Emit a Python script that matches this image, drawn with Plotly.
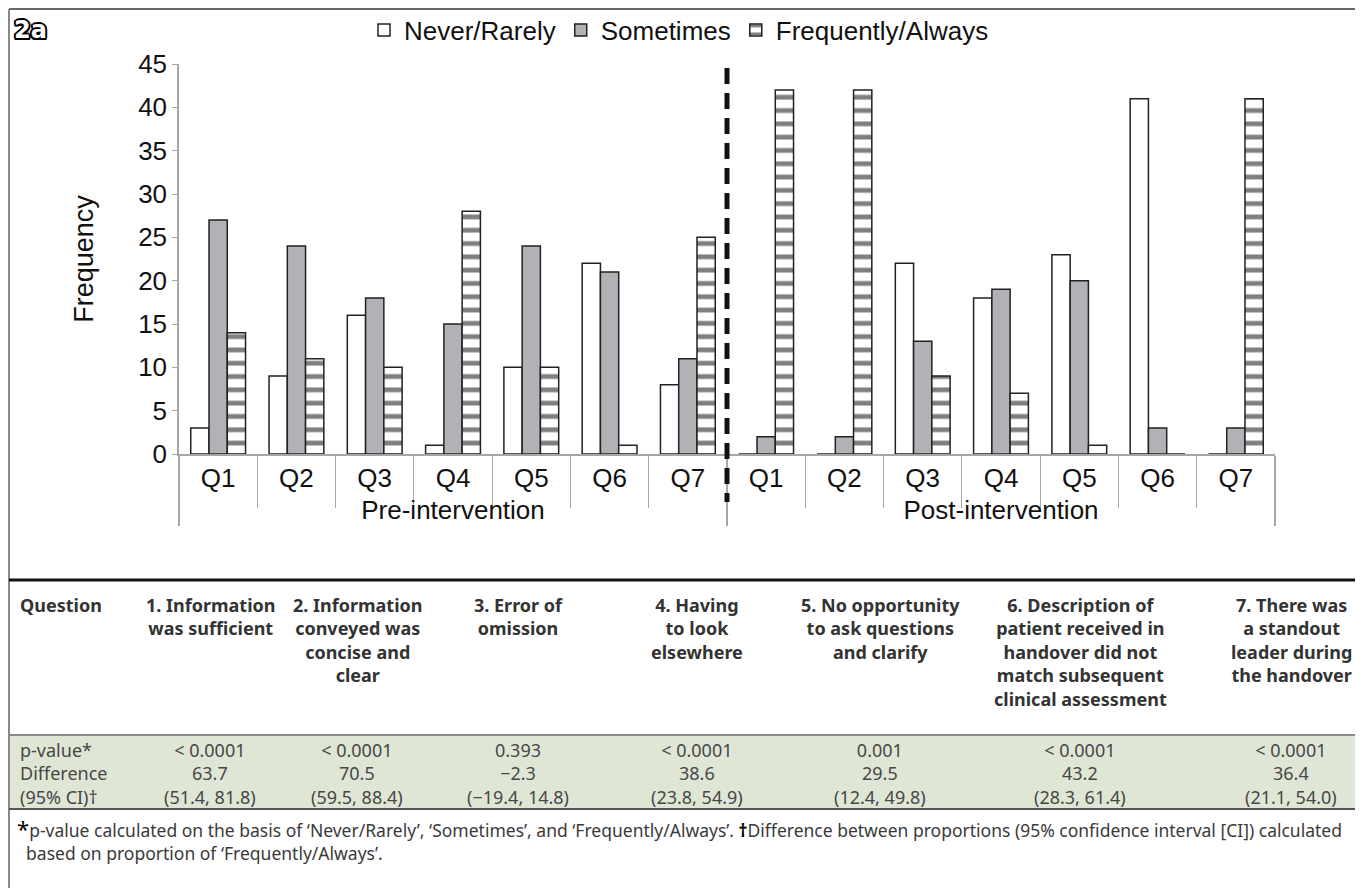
import plotly.graph_objects as go

# ---------------- data ----------------
groups = ["Pre-intervention"] * 7 + ["Post-intervention"] * 7
questions = ["Q1", "Q2", "Q3", "Q4", "Q5", "Q6", "Q7"] * 2
never_rarely = [3, 9, 16, 1, 10, 22, 8, 0, 0, 22, 18, 23, 41, 0]
sometimes = [27, 24, 18, 15, 24, 21, 11, 2, 2, 13, 19, 20, 3, 3]
frequently_always = [14, 11, 10, 28, 10, 1, 25, 42, 42, 9, 7, 1, 0, 41]
series_names = ["Never/Rarely", "Sometimes", "Frequently/Always"]

table_headers = [
    ["1. Information", "was sufficient"],
    ["2. Information", "conveyed was", "concise and", "clear"],
    ["3. Error of", "omission"],
    ["4. Having", "to look", "elsewhere"],
    ["5. No opportunity", "to ask questions", "and clarify"],
    ["6. Description of", "patient received in", "handover did not", "match subsequent",
     "clinical assessment"],
    ["7. There was", "a standout", "leader during", "the handover"],
]
p_values = ["< 0.0001", "< 0.0001", "0.393", "< 0.0001", "0.001", "< 0.0001", "< 0.0001"]
differences = ["63.7", "70.5", "\u22122.3", "38.6", "29.5", "43.2", "36.4"]
ci_95 = ["(51.4, 81.8)", "(59.5, 88.4)", "(\u221219.4, 14.8)", "(23.8, 54.9)",
         "(12.4, 49.8)", "(28.3, 61.4)", "(21.1, 54.0)"]
row_labels = ["p-value*", "Difference", "(95% CI)\u2020"]
footnote_1 = ("<span style='font-size:22px;color:#000'>*</span>p-value calculated on the basis of "
              "\u2018Never/Rarely\u2019, \u2018Sometimes\u2019, and \u2018Frequently/Always\u2019. "
              "<span style='color:#000'><b>\u2020</b></span>Difference between proportions (95% confidence "
              "interval [CI]) calculated")
footnote_2 = "\u00a0\u00a0based on proportion of \u2018Frequently/Always\u2019."

# ---------------- layout geometry ----------------
# reference pixel coordinates; the page body adds an 8px offset
OFF = 8
W_IMG, H_IMG = 1363 - OFF, 888 - OFF
L, R, T, B = 179, 1275, 64, 454
PW, PH = R - L, B - T


def px(x):
    return (x - L) / PW


def py(y):
    return (B - y) / PH


CHART_FONT = "Liberation Sans, Arial, sans-serif"
TABLE_FONT = "Noto Sans, Roboto, sans-serif"
HEAD_COLOR = "#333333"
VAL_COLOR = "#474747"

x = [groups, questions]
fig = go.Figure()
fig.add_trace(go.Bar(
    x=x, y=never_rarely, name=series_names[0],
    marker=dict(color="white", line=dict(color="#222", width=1.5)),
))
fig.add_trace(go.Bar(
    x=x, y=sometimes, name=series_names[1],
    marker=dict(color="#b1b2b5", line=dict(color="#222", width=1.5)),
))
fig.add_trace(go.Bar(
    x=x, y=frequently_always, name=series_names[2],
    marker=dict(color="white", line=dict(color="#222", width=1.5),
                pattern=dict(shape="-", fgcolor="#000", bgcolor="white",
                             size=13.3, solidity=0.36)),
))

fig.update_layout(
    width=W_IMG, height=H_IMG,
    margin=dict(l=L - OFF, r=1363 - R, t=T - OFF, b=888 - B, pad=0, autoexpand=False),
    plot_bgcolor="white", paper_bgcolor="white",
    barmode="group", bargap=0.3, bargroupgap=0,
    font=dict(family=CHART_FONT, size=26, color="#111"),
    showlegend=True,
    legend=dict(orientation="h", xref="container", yref="container",
                x=(364 - OFF) / W_IMG, xanchor="left", y=1 - (30 - OFF) / H_IMG,
                yanchor="middle",
                font=dict(size=26, family=CHART_FONT), bgcolor="rgba(0,0,0,0)",
                itemwidth=30, tracegroupgap=0),
    xaxis=dict(
        type="multicategory", showline=True, linecolor="#a6a6a6", linewidth=1.5,
        ticks="outside", tickson="boundaries", ticklen=52, tickcolor="#a6a6a6",
        showdividers=True, dividercolor="#a6a6a6", dividerwidth=1.5,
        tickfont=dict(size=26, family=CHART_FONT, color="#111"),
        showgrid=False, zeroline=False, automargin=False,
    ),
    yaxis=dict(
        range=[0, 45], dtick=5, showline=True, linecolor="#a6a6a6", linewidth=1.5,
        ticks="outside", ticklen=5, tickcolor="#a6a6a6",
        tickfont=dict(size=26, family=CHART_FONT, color="#111"),
        showgrid=False, zeroline=False, automargin=False,
        title=dict(text="Frequency", font=dict(size=27, family=CHART_FONT, color="#111"),
                   standoff=37),
    ),
)

shapes = []
# outer frame
shapes.append(dict(type="line", xref="paper", yref="paper", x0=px(9), x1=px(1356),
                   y0=py(9), y1=py(9), line=dict(color="#333", width=1.5)))
shapes.append(dict(type="line", xref="paper", yref="paper", x0=px(9), x1=px(9),
                   y0=py(9), y1=py(890), line=dict(color="#888", width=2)))
shapes.append(dict(type="line", xref="paper", yref="paper", x0=px(1356), x1=px(1356),
                   y0=py(9), y1=py(890), line=dict(color="#888", width=2)))
# dashed separator between pre and post
shapes.append(dict(type="line", xref="paper", yref="paper", x0=0.5, x1=0.5,
                   y0=py(68), y1=py(502), line=dict(color="#111", width=5, dash="16px,9px")))
# table background and rules
shapes.append(dict(type="rect", xref="paper", yref="paper", x0=px(10), x1=px(1355),
                   y0=py(735), y1=py(809), fillcolor="#dfe6d6", line=dict(width=0), layer="below"))
shapes.append(dict(type="line", xref="paper", yref="paper", x0=px(9), x1=px(1356),
                   y0=py(580), y1=py(580), line=dict(color="#111", width=3)))
shapes.append(dict(type="line", xref="paper", yref="paper", x0=px(9), x1=px(1356),
                   y0=py(735), y1=py(735), line=dict(color="#8a8a8a", width=2)))
shapes.append(dict(type="line", xref="paper", yref="paper", x0=px(9), x1=px(1356),
                   y0=py(809), y1=py(809), line=dict(color="#555", width=2)))
fig.update_layout(shapes=shapes)

ann = []
# panel label
ann.append(dict(text="<b>2a</b>", xref="paper", yref="paper", x=px(12), y=py(30),
                xanchor="left", yanchor="middle", showarrow=False,
                font=dict(size=24, family="DejaVu Sans", color="white",
                          shadow="-1.5px -1.5px 0 #000, 1.5px -1.5px 0 #000, -1.5px 1.5px 0 #000, 1.5px 1.5px 0 #000, 0 2px 0 #000, 2px 0 0 #000, -2px 0 0 #000, 0 -2px 0 #000")))

col_centers = [210, 357, 518, 697, 880, 1080, 1291]
HEAD_TOP = 591

ann.append(dict(text="<b>Question</b>", xref="paper", yref="paper", x=px(18), y=py(HEAD_TOP),
                xanchor="left", yanchor="top", showarrow=False,
                font=dict(size=18, family=TABLE_FONT, color=HEAD_COLOR)))
for cx, head in zip(col_centers, table_headers):
    ann.append(dict(text="<b>" + "<br>".join(head) + "</b>", xref="paper", yref="paper",
                    x=px(cx), y=py(HEAD_TOP), xanchor="center", yanchor="top", align="center",
                    showarrow=False,
                    font=dict(size=18, family=TABLE_FONT, color=HEAD_COLOR)))

ROW_MID = 773
ann.append(dict(text="<br>".join(row_labels), xref="paper", yref="paper", x=px(18),
                y=py(ROW_MID), xanchor="left", yanchor="middle", align="left", showarrow=False,
                font=dict(size=18, family=TABLE_FONT, color=VAL_COLOR)))
for cx, pv, d, ci in zip(col_centers, p_values, differences, ci_95):
    ann.append(dict(text="<br>".join((pv, d, ci)), xref="paper", yref="paper", x=px(cx),
                    y=py(ROW_MID), xanchor="center", yanchor="middle", align="center",
                    showarrow=False,
                    font=dict(size=18, family=TABLE_FONT, color=VAL_COLOR)))

ann.append(dict(text=footnote_1 + "<br>" + footnote_2, xref="paper", yref="paper",
                x=px(15), y=py(839), xanchor="left", yanchor="middle", align="left",
                showarrow=False,
                font=dict(size=17.5, family=TABLE_FONT, color="#3a3a3a")))
fig.update_layout(annotations=ann)

fig.write_html("out.html")
